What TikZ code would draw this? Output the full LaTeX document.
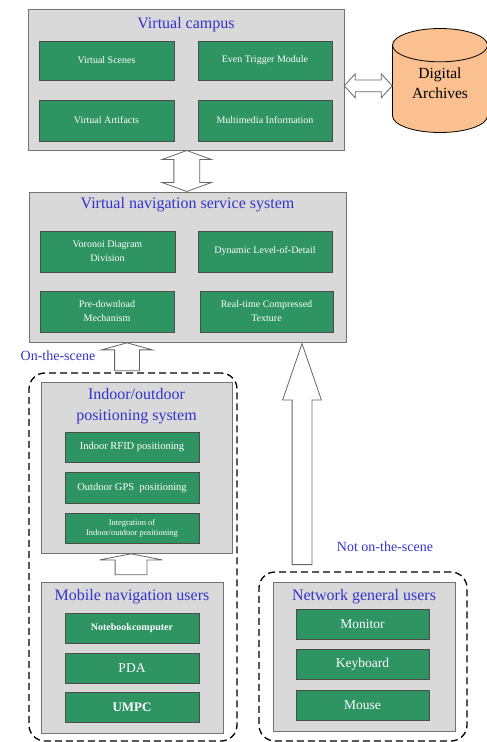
\documentclass[tikz,border=0pt]{standalone}
\usepackage{fontspec}
\setmainfont{Liberation Serif}
\usetikzlibrary{shapes.geometric,shapes.arrows,calc}

\definecolor{panelgray}{RGB}{217,217,217}
\definecolor{boxgreen}{RGB}{46,148,98}
\definecolor{titleblue}{RGB}{51,51,204}
\definecolor{archivefill}{RGB}{250,192,143}

\tikzstyle{panel}=[rectangle, draw=black!55, fill=panelgray, line width=0.8pt, inner sep=0pt]
\tikzstyle{module}=[rectangle, draw=black!70, fill=boxgreen, line width=0.9pt, text=white, align=center, inner sep=1pt, minimum width=134, minimum height=30, font=\fontsize{10}{14}\selectfont]
\tikzstyle{device}=[module, font=\fontsize{13.5}{15}\selectfont]
\tikzstyle{heading}=[text=titleblue, align=center, font=\fontsize{16}{21}\selectfont]
\tikzstyle{scene}=[text=titleblue, font=\fontsize{14}{16}\selectfont]
\tikzstyle{group}=[rectangle, draw, dash pattern=on 7pt off 4pt, line width=1.3pt, rounded corners=16pt, inner sep=0pt]
\tikzstyle{hollow}=[draw=black!60, fill=white, line width=0.8pt, inner xsep=0pt, minimum width=0pt]

\begin{document}
\begin{tikzpicture}[x=1pt, y=-1pt]
            \useasboundingbox (0,0) rectangle (487,742);
            % dashed user groups
            \node[group, minimum width=208, minimum height=368] at (133,557) (onsite) {};
            \node[group, minimum width=208, minimum height=169] at (363,656.5) (offsite) {};
            % virtual campus
            \node[panel, minimum width=316, minimum height=141] at (186,79.5) (vc) {};
            \node[heading] at (186,25) (vctitle) {Virtual campus};
            \node[module, minimum width=135, minimum height=39] at (106.5,60.5) (vs) {Virtual Scenes};
            \node[module, minimum height=39] at (265,60.5) (etm) {Even Trigger Module};
            \node[module, minimum width=135, minimum height=41] at (106.5,120.5) (va) {Virtual Artifacts};
            \node[module, minimum height=41] at (265,120.5) (mi) {Multimedia Information};
            \node[cylinder, shape border rotate=90, aspect=5, draw, fill=archivefill, line width=0.8pt,
                  minimum width=95, minimum height=104, anchor=shape center] at (440,80.5) (da) {};
            \node[align=center, font=\fontsize{15.5}{20}\selectfont] at ($(da.shape center)+(0,3)$) (datext) {Digital\\Archives};
            % navigation service
            \node[panel, minimum width=317, minimum height=150] at (187.5,267) (vns) {};
            \node[heading] at (187.5,205) (vnstitle) {Virtual navigation service system};
            \node[module, minimum width=135, minimum height=41] at (107.5,251.5) (vdd) {Voronoi Diagram\\Division};
            \node[module, minimum height=41] at (265,251.5) (dld) {Dynamic Level-of-Detail};
            \node[module, minimum height=41] at (107,311.5) (pdm) {Pre-download\\Mechanism};
            \node[module, minimum width=133, minimum height=41] at (266.5,311.5) (rct) {Real-time Compressed\\Texture};
            % positioning
            \node[panel, minimum width=191, minimum height=171] at (136.5,467.5) (ios) {};
            \node[heading] at (136.5,406.5) (iostitle) {Indoor/outdoor\\positioning system};
            \node[module, font=\fontsize{10.5}{12}\selectfont] at (132,447) (rfid) {Indoor RFID positioning};
            \node[module, minimum height=31, font=\fontsize{10.5}{12}\selectfont] at (132,487.5) (gps) {Outdoor GPS\ \ positioning};
            \node[module, font=\fontsize{8.5}{10}\selectfont] at (132,528) (integ) {Integration of\\Indoor/outdoor positioning};
            % mobile users
            \node[panel, minimum width=182, minimum height=151] at (132,657.5) (mob) {};
            \node[heading] at (132,597) (mobtitle) {Mobile navigation users};
            \node[module, font=\fontsize{10}{12}\selectfont\bfseries] at (132,628) (nb) {Notebookcomputer};
            \node[device] at (132,668) (pda) {PDA};
            \node[device, font=\fontsize{13}{15}\selectfont\bfseries] at (132,707) (umpc) {UMPC};
            % network users
            \node[panel, minimum width=182, minimum height=149] at (364,656.5) (ngu) {};
            \node[heading] at (364,597) (ngutitle) {Network general users};
            \node[device, minimum width=133] at (362.5,624) (mon) {Monitor};
            \node[device, minimum width=133] at (362.5,664.5) (kbd) {Keyboard};
            \node[device, minimum width=133] at (362.5,705) (mouse) {Mouse};
            % scene labels
            \node[scene] at (58,356) (on) {On-the-scene};
            \node[scene] at (385,547) (noton) {Not on-the-scene};
            % block arrows
            \node[hollow, double arrow, rotate=90, minimum height=41, inner ysep=12.5,
                  double arrow head extend=12, double arrow tip angle=140]
                  at ($(vc.south)!0.5!(vns.north)$) (vclink) {};
            \node[hollow, double arrow, minimum height=48, inner ysep=5.5,
                  double arrow head extend=6, double arrow tip angle=95]
                  at ($(vc.east)!0.5!(da.west)$) (dalink) {};
            \node[hollow, single arrow, rotate=90, anchor=tip, minimum height=28, inner ysep=12,
                  single arrow head extend=13, single arrow tip angle=149]
                  at ($(vns.south)+(-60.5,0)$) (onlink) {};
            \node[hollow, single arrow, rotate=90, anchor=tip, minimum height=21, inner ysep=15.5,
                  single arrow head extend=15.5, single arrow tip angle=158]
                  at ($(ios.south)+(-5.5,0)$) (moblink) {};
            \node[hollow, single arrow, rotate=90, anchor=tip, minimum height=221, inner ysep=9.5,
                  single arrow head extend=9.5, single arrow tip angle=38]
                  at ($(vns.south)+(114.5,0)$) (netlink) {};
        \end{tikzpicture}
\end{document}
